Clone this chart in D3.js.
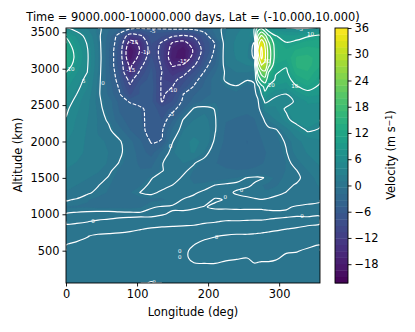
<!DOCTYPE html>
<html>
<head>
<meta charset="utf-8">
<script src="https://cdn.jsdelivr.net/npm/d3@7"></script>
<style>
html, body { margin: 0; padding: 0; background: #fff; }
text { font-family: "DejaVu Sans", sans-serif; fill: #000; }
</style>
</head>
<body>
<div id="chart"></div>
<script>
var lons = [0, 15, 30, 45, 60, 75, 90, 105, 120, 135, 150, 165, 180, 195, 210, 225, 240, 255, 265, 270, 275, 280, 285, 295, 310, 325, 340, 357.5];
var alts = [3559, 3450, 3350, 3250, 3150, 3050, 2950, 2850, 2750, 2650, 2550, 2450, 2300, 2150, 2000, 1850, 1700, 1600, 1500, 1400, 1300, 1200, 1100, 1000, 900, 800, 700, 600, 500, 400, 300, 180, 56];

// velocity, one row per altitude, one value per longitude
var velocity = [
	[4.8,3.8,2.5,.6,-1.5,-2.8,-4,-4.6,-4.8,-4.7,-4.3,-4,-3.8,-3,-1.2,.8,2,3,4.5,12,14,10,6,5.1,5.2,4.7,4.8,4.8],
	[9.5,6.5,4,.7,-2.5,-6,-12,-10.5,-7,-7.5,-9.5,-10.5,-9.5,-6.5,-2,1.2,2.5,3.5,5,20,26,22,16,10.2,8.6,8.6,9.7,10.5],
	[11.5,7.5,4.8,1,-3,-6.5,-17,-14,-7.5,-10.5,-15.5,-17,-12.5,-7.5,-4.8,1.5,2.8,3.5,-.5,27,34,29,21,12.5,10.2,11,12,12],
	[13,8.5,5.2,1.2,-3.2,-7,-19.5,-14.5,-8,-11,-17,-19,-14.5,-8,-4.5,1.5,2.8,3,-1.5,30,36,31,23,13,11.5,13,13.5,13],
	[13.5,8.8,5.3,1.3,-3.2,-7,-19,-13,-7.5,-11,-17.5,-19,-13,-7,-4,1.4,2.6,2.8,-.5,27,36,31,23,13,11.5,14.4,14.6,13.5],
	[12.5,8,5.2,1.2,-3.2,-7,-16,-11,-6.5,-10.5,-15.5,-14.5,-10.5,-6,-3.2,1,2.2,2.5,3,22,30,29,22,11,10.3,14.5,14.7,13],
	[10,7,5,1,-3,-6.5,-14.5,-9,-5.8,-10,-13,-11.5,-7.5,-4.8,-2,.3,1,1,.5,16,22,24,15,10.2,9.5,13.5,14,11.5],
	[8.5,6,4.4,.8,-2.8,-6,-11,-7.5,-5.5,-10.5,-11.2,-8.5,-6,-3.5,-1,.2,.5,.1,.5,11,16,18,12,9.7,8.8,11.5,13,10.5],
	[7.3,5.5,4,.6,-2.5,-5.3,-9.5,-6,-5.2,-10.5,-10,-7,-4.8,-3,-1.2,-.4,-.1,-.8,-.5,3,8,11.5,9.5,8,7.5,9.8,11,9.5],
	[6.5,5,3.4,.5,-2.3,-4.7,-8,-6,-5.5,-10.5,-8.8,-5,-3.5,-2.5,-1.5,-.8,-.6,-.8,-.5,.5,5,9,7,5.5,5,7.5,9,8.5],
	[5.8,4.5,3,.4,-1,-3.9,-5.2,-5.5,-5.7,-10.2,-7.5,-4.5,-2.8,-1.5,-.5,-.9,-1.2,-1.3,-1,-.3,2,5.5,5,4.2,4,5.5,7,7],
	[5.3,4.2,2.8,.7,-1,-3.5,-4,-4.8,-5.5,-7,-5.8,-3.5,.3,.6,-.1,-1.2,-1.5,-1.6,-1.2,-.6,.8,3.2,3.5,3.8,5.3,6.5,6.5,6.2],
	[4.9,3.8,2.5,.9,-.3,-3,-3.8,-4.7,-5.5,-6.3,-3.5,.1,1,1.5,.1,-1.8,-2,-2.2,-2,-1.4,-.8,.3,1.2,2.5,4.5,6,6,5.5],
	[4.6,3.6,2.3,.9,.4,-1.2,-3.3,-4.4,-5.8,-5.3,-1.5,1,2,2,.1,-2.2,-2.5,-2.8,-2.5,-2,-1.5,-1,-.6,-.4,1.8,3.8,5.2,4.8],
	[4,3.2,2.2,1.2,.9,.3,-1.5,-3.2,-5.2,-4.9,-.1,2,2.8,2.2,-.4,-2.4,-2.8,-3.4,-2.8,-2.4,-2,-1.6,-1.4,-.8,.2,2,3.2,3.8],
	[3.4,2.9,2.2,1.5,1,.4,-1,-2.7,-4,-1.5,.8,2.2,2.6,.9,-1.4,-2.6,-3,-3.2,-2.8,-2.5,-2.2,-2,-1.7,-1.2,-.1,1.6,2.6,3.2],
	[2.8,2.4,2,1.5,.9,-.1,-1,-2.3,-2.5,-.1,1,1,.1,-1,-1.8,-2.5,-2.8,-2.9,-2.5,-2.3,-2,-1.8,-1.6,-1.2,-.4,.5,1.8,2.7],
	[2.4,2,1.7,1.2,.25,-.6,-1.4,-1.8,-1.6,-.1,.7,.3,-.5,-1,-1.3,-1.6,-1.8,-1.7,-1.5,-1.3,-1.2,-1,-1,-.8,-.4,-.01,1,2.2],
	[2,1.6,1.1,.5,-.1,-.8,-1.2,-1.3,-.1,.6,.6,-.2,-.6,-.7,-.7,-.6,-.4,.05,.2,.2,.1,-.05,-.3,-.5,-.4,-.2,.4,1.6],
	[1.5,1,.5,.05,-.4,-.7,-.8,-.5,.3,.4,-.02,-.4,-.4,-.3,.02,.15,.25,.15,-.1,-.3,-.4,-.5,-.5,-.5,-.2,.1,.3,1.2],
	[.9,.6,.15,-.2,-.5,-.6,-.5,.05,.25,-.2,-.3,-.4,-.1,.15,.4,.2,-.1,-.3,-.4,-.4,-.4,-.4,-.4,-.2,.02,.2,.3,.7],
	[.1,-.1,-.4,-.6,-.7,-.7,-.7,-.7,-.6,-.5,-.3,.05,.2,.3,-.1,.05,.25,.2,.1,.05,.02,.05,.1,.2,.4,.5,.5,.2],
	[-.5,-.5,-.5,-.6,-.6,-.6,-.6,-.5,-.05,.05,.1,.2,.1,-.05,.15,.15,.2,.2,.2,.2,.2,.2,.2,.2,.1,-.1,-.3,-.4],
	[.05,.2,.3,.4,.4,.3,.25,.2,.2,.05,-.1,-.2,-.3,-.4,-.4,-.4,-.4,-.4,-.4,-.4,-.4,-.3,-.25,-.2,-.15,-.1,-.1,-.05],
	[.15,.1,.02,-.1,-.2,-.3,-.35,-.35,-.35,-.4,-.4,-.35,-.3,-.1,-.03,.05,.05,.08,.1,.1,.1,.1,.12,.15,.2,.25,.2,.15],
	[-.3,-.3,-.3,-.3,-.3,-.25,-.15,-.03,.05,.15,.2,.25,.3,.3,.3,.3,.3,.3,.25,.25,.2,.2,.15,.1,.01,-.05,-.15,-.3],
	[-.3,-.15,-.02,.1,.15,.2,.25,.25,.25,.25,.25,.25,.2,.1,.02,-.05,-.1,-.1,-.12,-.15,-.15,-.2,-.2,-.25,-.3,-.3,-.3,-.3],
	[-.03,.05,.1,.1,.1,.1,.1,.1,.1,.1,.1,.1,.03,-.1,-.15,-.2,-.2,-.2,-.2,-.2,-.2,-.2,-.2,-.2,-.2,-.2,-.1,-.03],
	[.1,.1,.1,.1,.1,.1,.1,.1,.1,.1,.1,.1,-.1,-.12,-.15,-.15,-.15,-.15,-.15,-.15,-.15,-.15,-.15,-.15,-.03,-.02,.05,.1],
	[.1,.1,.1,.1,.1,.1,.1,.1,.1,.1,.1,.1,-.1,-.09,-.09,-.04,-.02,-.001,-.07,-.06,-.05,-.05,-.05,-.03,.05,.08,.1,.1],
	[.1,.1,.1,.1,.1,.1,.1,.1,.1,.1,.1,.1,.05,.03,.03,.06,.08,.1,.03,.04,.05,.05,.05,.07,.1,.1,.1,.1],
	[.2,.2,.2,.2,.15,.15,.15,.15,.15,.15,.15,.15,.15,.15,.15,.15,.15,.15,.15,.15,.15,.15,.15,.15,.15,.2,.2,.2],
	[.2,.2,.2,.15,.15,.1,.1,.05,-.03,.05,.1,.15,.15,.15,.15,.15,.15,.15,.15,.15,.15,.15,.15,.15,.15,.2,.2,.2]
];

var lonTicks = [0, 100, 200, 300];
var altTicks = [500, 1000, 1500, 2000, 2500, 3000, 3500];
var velTicks = [-18, -12, -6, 0, 6, 12, 18, 24, 30, 36];
var lineLevels = [-20, -15, -10, -5, 0, 5, 10, 15, 20, 25, 30, 35];

// inline contour labels: lon, alt, text
var labelLon = [38, 124, 160, 160, 212, 332, 247, 224, 52, 147, 25, 7, 122, 148, 112, 150, 91, 95, 164, 331, 344, 322, 283, 289];
var labelAlt = [908, 74, 490, 405, 692, 981, 1334, 1233, 2800, 1943, 2830, 2990, 3520, 2378, 3234, 2700, 2975, 3370, 3106, 3540, 3470, 2754, 3100, 2780];
var labelText = ["0", "0", "0", "0", "0", "0", "0", "0", "0", "0", "5", "10", "-5", "-5", "-10", "-10", "-15", "-15", "-15", "5", "10", "10", "30", "20"];

var w = 415;
var h = 332;
var left = 66, right = 320, top_ = 28, bottom = 283;
var cbLeft = 335, cbRight = 348;
var vMin = -22.3, vMax = 36;
var nBands = 40;
var fontSize = 11.4;

var svg = d3.select("#chart")
	.append("svg")
	.attr("width", w)
	.attr("height", h)
	.style("display", "block");

var xScale = d3.scaleLinear().domain([0, 357.5]).range([left, right]);
var yScale = d3.scaleLinear().domain([56, 3559]).range([bottom, top_]);
var vScale = d3.scaleLinear().domain([vMin, vMax]).range([bottom, top_]);

// contour output is in grid cells, value i sits at i + 0.5
var colToLon = d3.scaleLinear().domain(lons.map(function(d, i) { return i + 0.5; })).range(lons).clamp(true);
var rowToAlt = d3.scaleLinear().domain(alts.map(function(d, i) { return i + 0.5; })).range(alts).clamp(true);

function px(p) {
	return [xScale(colToLon(p[0])), yScale(rowToAlt(p[1]))];
}

var nx = lons.length, ny = alts.length;
var values = d3.merge(velocity);
var contours = d3.contours().size([nx, ny]);

var bandStep = (vMax - vMin) / nBands;
var bandEdges = d3.range(nBands).map(function(i) { return vMin + i * bandStep; });
function bandColor(edge) {
	return d3.interpolateViridis((edge + bandStep / 2 - vMin) / (vMax - vMin));
}

svg.append("defs").append("clipPath")
	.attr("id", "plot-clip")
	.append("rect")
	.attr("x", left)
	.attr("y", top_)
	.attr("width", right - left)
	.attr("height", bottom - top_);

var plot = svg.append("g").attr("clip-path", "url(#plot-clip)");

// filled bands, each one painted over the one below
plot.selectAll("path.band")
	.data(bandEdges)
	.enter()
	.append("path")
	.attr("class", "band")
	.attr("fill", bandColor)
	.attr("stroke", bandColor)
	.attr("stroke-width", 0.3)
	.attr("d", function(edge) {
		var c = contours.contour(values, edge);
		var s = "";
		c.coordinates.forEach(function(poly) {
			poly.forEach(function(ring) {
				s += "M" + ring.map(function(p) { return px(p).join(","); }).join("L") + "Z";
			});
		});
		return s;
	});

function onBorder(p) {
	return p[0] <= 0 || p[0] >= nx || p[1] <= 0 || p[1] >= ny;
}

// Cut a ring where it runs along the grid edge, those bits are not contour lines
function ringPieces(ring) {
	var pts = ring.slice(0, ring.length - 1);
	var n = pts.length;
	var start = -1;
	for (var i = 0; i < n; i++) {
		if (onBorder(pts[i]) && onBorder(pts[(i + 1) % n])) {
			start = (i + 1) % n;
			break;
		}
	}
	if (start < 0) {
		return [{ closed: true, pts: pts }];
	}
	var pieces = [];
	var cur = [pts[start]];
	for (var k = 1; k <= n; k++) {
		var p = pts[(start + k) % n];
		var q = cur[cur.length - 1];
		if (onBorder(p) && onBorder(q)) {
			if (cur.length > 1) pieces.push({ closed: false, pts: cur });
			cur = [p];
		} else {
			cur.push(p);
		}
	}
	if (cur.length > 1) pieces.push({ closed: false, pts: cur });
	return pieces;
}

var openLine = d3.line().curve(d3.curveCatmullRom.alpha(0.5));
var closedLine = d3.line().curve(d3.curveCatmullRomClosed.alpha(0.5));

lineLevels.forEach(function(level) {
	var c = contours.contour(values, level);
	c.coordinates.forEach(function(poly) {
		poly.forEach(function(ring) {
			ringPieces(ring).forEach(function(piece) {
				var mapped = piece.pts.map(px);
				plot.append("path")
					.attr("fill", "none")
					.attr("stroke", "#fff")
					.attr("stroke-width", 1.15)
					.attr("stroke-dasharray", level < 0 ? "3.7,1.6" : null)
					.attr("d", piece.closed ? closedLine(mapped) : openLine(mapped));
			});
		});
	});
});

plot.selectAll("text.clabel")
	.data(labelText)
	.enter()
	.append("text")
	.attr("class", "clabel")
	.attr("x", function(d, i) { return xScale(labelLon[i]); })
	.attr("y", function(d, i) { return yScale(labelAlt[i]) + 1.9; })
	.attr("text-anchor", "middle")
	.attr("font-size", "5.5px")
	.style("fill", "#fff")
	.text(function(d) { return d; });

// frame and axes
svg.append("rect")
	.attr("x", left)
	.attr("y", top_)
	.attr("width", right - left)
	.attr("height", bottom - top_)
	.attr("fill", "none")
	.attr("stroke", "#000")
	.attr("stroke-width", 0.9);

function styleAxis(g) {
	g.select(".domain").remove();
	g.selectAll(".tick line").attr("stroke", "#000").attr("stroke-width", 0.9);
	g.selectAll(".tick text")
		.attr("font-size", fontSize + "px")
		.attr("font-family", "DejaVu Sans");
}

svg.append("g")
	.attr("transform", "translate(0," + bottom + ")")
	.call(d3.axisBottom(xScale).tickValues(lonTicks).tickSize(3.5).tickPadding(3).tickFormat(d3.format("d")))
	.call(styleAxis);

svg.append("g")
	.attr("transform", "translate(" + left + ",0)")
	.call(d3.axisLeft(yScale).tickValues(altTicks).tickSize(3.5).tickPadding(3).tickFormat(d3.format("d")))
	.call(styleAxis);

// colorbar
svg.append("g").selectAll("rect")
	.data(bandEdges)
	.enter()
	.append("rect")
	.attr("x", cbLeft)
	.attr("width", cbRight - cbLeft)
	.attr("y", function(d) { return vScale(d + bandStep); })
	.attr("height", function() { return vScale(0) - vScale(bandStep) + 0.4; })
	.attr("fill", bandColor);

svg.append("rect")
	.attr("x", cbLeft)
	.attr("y", top_)
	.attr("width", cbRight - cbLeft)
	.attr("height", bottom - top_)
	.attr("fill", "none")
	.attr("stroke", "#000")
	.attr("stroke-width", 0.9);

svg.append("g")
	.attr("transform", "translate(" + cbRight + ",0)")
	.call(d3.axisRight(vScale).tickValues(velTicks).tickSize(3.5).tickPadding(3).tickFormat(d3.format("d")))
	.call(styleAxis);

// titles
svg.append("text")
	.attr("x", 193)
	.attr("y", 21)
	.attr("text-anchor", "middle")
	.attr("font-size", fontSize + "px")
	.text("Time = 9000.000-10000.000 days, Lat = (-10.000,10.000)");

svg.append("text")
	.attr("x", 193)
	.attr("y", 315.5)
	.attr("text-anchor", "middle")
	.attr("font-size", fontSize + "px")
	.text("Longitude (deg)");

svg.append("text")
	.attr("transform", "translate(22,155) rotate(-90)")
	.attr("text-anchor", "middle")
	.attr("font-size", fontSize + "px")
	.text("Altitude (km)");

var cbLabel = svg.append("text")
	.attr("transform", "translate(395,155) rotate(-90)")
	.attr("text-anchor", "middle")
	.attr("font-size", fontSize + "px");
cbLabel.append("tspan").text("Velocity (m s");
cbLabel.append("tspan").attr("dy", "-0.4em").attr("font-size", "8px").text("\u22121");
cbLabel.append("tspan").attr("dy", "0.3em").text(")");
</script>
</body>
</html>
